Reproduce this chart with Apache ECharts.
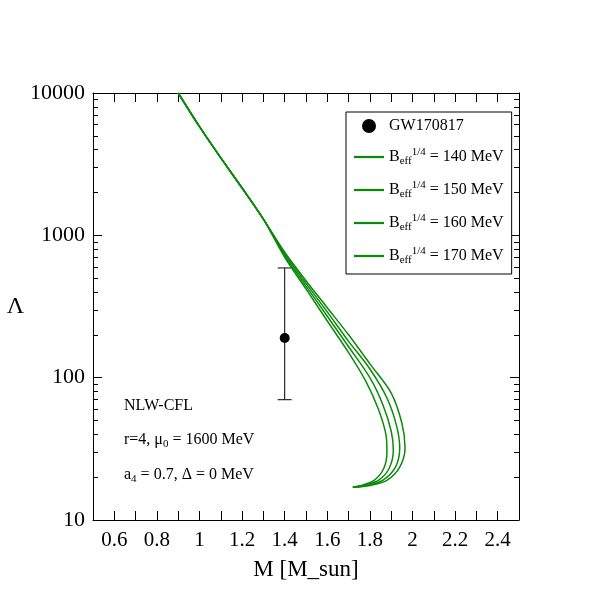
<!DOCTYPE html><html><head><meta charset="utf-8"><script src="https://cdn.jsdelivr.net/npm/echarts@6/dist/echarts.min.js"></script></head><body style="margin:0"><div id="c" style="width:612px;height:612px"></div><script>
const common=[[0.9,10000],[1.0,5800],[1.1,3500],[1.2,2150],[1.3,1300]];
const b140=[[1.4,700],[1.5,420],[1.6,250],[1.7,150],[1.78,95],[1.84,60],[1.875,40],[1.88,30],[1.865,23],[1.82,19],[1.76,17.5],[1.72,17]];
const b150=[[1.4,720],[1.5,440],[1.6,270],[1.7,165],[1.8,100],[1.86,65],[1.9,42],[1.91,31],[1.89,23],[1.84,19],[1.77,17.5],[1.72,17]];
const b160=[[1.4,740],[1.5,460],[1.6,290],[1.7,180],[1.8,115],[1.88,72],[1.925,46],[1.94,32],[1.92,23.5],[1.86,19],[1.78,17.5],[1.72,17]];
const b170=[[1.4,760],[1.5,480],[1.6,310],[1.7,200],[1.8,125],[1.9,78],[1.95,48],[1.965,32],[1.94,23.5],[1.88,19],[1.8,17.5],[1.72,17]];
const gw={m:1.4,lam:190,lo:70,hi:590};
const names=['140','150','160','170'];
const F='Liberation Serif';
const green='#0a8a0a';
const curves=[b140,b150,b160,b170];
const lineIcon='path://M0,0 L40,0 L40,3 L0,3 Z';
const series=curves.map((c,i)=>({type:'line',name:names[i],data:common.concat(c),showSymbol:false,smooth:0.3,lineStyle:{color:green,width:1.5},itemStyle:{color:green},z:2}));
series.unshift({type:'custom',name:'GW170817',data:[[gw.m,gw.lam,gw.lo,gw.hi]],itemStyle:{color:'#000'},
renderItem:(p,api)=>{const c=api.coord([api.value(0),api.value(1)]),lo=api.coord([api.value(0),api.value(2)]),hi=api.coord([api.value(0),api.value(3)]);
const s={stroke:'#000',lineWidth:1};return {type:'group',children:[
{type:'line',shape:{x1:c[0],y1:lo[1],x2:c[0],y2:hi[1]},style:s},
{type:'line',shape:{x1:c[0]-7,y1:lo[1],x2:c[0]+7,y2:lo[1]},style:s},
{type:'line',shape:{x1:c[0]-7,y1:hi[1],x2:c[0]+7,y2:hi[1]},style:s},
{type:'circle',shape:{cx:c[0],cy:c[1],r:5},style:{fill:'#000'}}]};}});
const ax={axisLine:{lineStyle:{color:'#000'}},axisTick:{inside:true,length:9,lineStyle:{color:'#000'}},splitLine:{show:false}};
const chart=echarts.init(document.getElementById('c'));
chart.setOption({animation:false,textStyle:{fontFamily:F},
grid:{left:93,right:93,top:93,bottom:92},
xAxis:[{type:'value',min:0.5,max:2.5,interval:0.1,...ax,
axisLabel:{fontFamily:F,fontSize:21,color:'#000',margin:10,formatter:v=>{const t=Math.round(v*10);return (t%2===0&&t>5&&t<25)?String(+(t/10).toFixed(1)):'';}},
name:'M [M_sun]',nameLocation:'middle',nameGap:38,nameTextStyle:{fontFamily:F,fontSize:23,color:'#000'}},
{type:'value',position:'top',min:0.5,max:2.5,interval:0.1,...ax,axisLabel:{show:false}}],
yAxis:[{type:'log',logBase:10,min:10,max:10000,...ax,minorTick:{show:true,splitNumber:9,length:5,lineStyle:{color:'#000'}},
axisLabel:{fontFamily:F,fontSize:22,color:'#000',margin:8,formatter:v=>String(Math.round(v))},
name:'Λ',nameLocation:'middle',nameRotate:0,nameGap:58,nameTextStyle:{fontFamily:F,fontSize:24,color:'#000'}},
{type:'log',logBase:10,position:'right',min:10,max:10000,...ax,minorTick:{show:true,splitNumber:9,length:5,lineStyle:{color:'#000'}},axisLabel:{show:false}}],
legend:{orient:'vertical',left:346,top:112,width:173,padding:[6,8,8,8],itemGap:13,borderColor:'#000',borderWidth:1,backgroundColor:'#fff',
itemWidth:30,itemHeight:14,
data:[{name:'GW170817',icon:'circle',itemStyle:{color:'#000'}},...names.map(n=>({name:n,icon:lineIcon}))],
formatter:n=>n==='GW170817'?'{a|GW170817}':'{a|B}{s|eff}{p|1/4}{a| = '+n+' MeV}',
textStyle:{fontFamily:F,color:'#000',rich:{a:{fontFamily:F,fontSize:16,color:'#000'},s:{fontFamily:F,fontSize:11,verticalAlign:'bottom',padding:[9,0,0,0]},p:{fontFamily:F,fontSize:11,verticalAlign:'top',padding:[0,0,9,0]}}}},
graphic:[
{type:'text',left:124,top:398,style:{text:'NLW-CFL',font:'16px "Liberation Serif"',fill:'#000'}},
{type:'text',left:124,top:432,style:{rich:{a:{fontFamily:F,fontSize:16,fill:'#000'},s:{fontFamily:F,fontSize:11,fill:'#000',padding:[9,0,0,0]}},text:'{a|r=4, μ}{s|0}{a| = 1600 MeV}'}},
{type:'text',left:124,top:467,style:{rich:{a:{fontFamily:F,fontSize:16,fill:'#000'},s:{fontFamily:F,fontSize:11,fill:'#000',padding:[9,0,0,0]}},text:'{a|a}{s|4}{a| = 0.7, Δ = 0 MeV}'}}],
series});
</script></body></html>
